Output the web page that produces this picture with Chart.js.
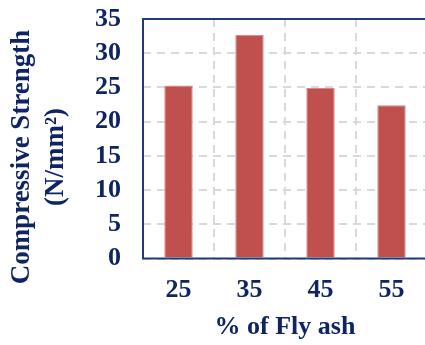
<!DOCTYPE html>
<html>
<head>
<meta charset="utf-8">
<script src="https://cdn.jsdelivr.net/npm/chart.js@4"></script>
<style>
  html, body { margin: 0; padding: 0; background: #fff; overflow: hidden; }
  #wrap { position: relative; width: 427px; height: 345px; }
</style>
</head>
<body>
<div id="wrap"><canvas id="chart"></canvas></div>
<script>
const flyAsh = ["25", "35", "45", "55"];
const strength = [25.3, 32.7, 24.9, 22.4];
const yMin = 0;
const yMax = 35;
const yStep = 5;
const yTitleLines = ["Compressive Strength", "(N/mm\u00B2)"];
const xTitle = "% of Fly ash";

const navy = "#0f2462";
const frameColor = "#1f3a78";
const gridColor = "#d9d9d9";
const barColor = "#c0504d";
const fontFamily = "'Liberation Serif', 'Times New Roman', serif";

// frame round the plot area and the two-line vertical axis title
const framePlugin = {
  id: "frame",
  afterDraw(chart) {
    const { ctx, chartArea } = chart;
    ctx.save();
    ctx.setLineDash([]);
    ctx.lineWidth = 2;
    ctx.strokeStyle = frameColor;
    ctx.strokeRect(chartArea.left, chartArea.top, chartArea.right - chartArea.left, chartArea.bottom - chartArea.top);

    ctx.fillStyle = navy;
    ctx.font = "bold 27px " + fontFamily;
    ctx.textAlign = "center";
    ctx.textBaseline = "alphabetic";
    const baselines = [28.5, 63];
    yTitleLines.forEach((line, i) => {
      ctx.save();
      ctx.translate(baselines[i], 157);
      ctx.rotate(-Math.PI / 2);
      ctx.fillText(line, 0, 0);
      ctx.restore();
    });
    ctx.restore();
  },
};

const ctx = document.getElementById("chart").getContext("2d");

new Chart(ctx, {
  type: "bar",
  data: {
    labels: flyAsh,
    datasets: [
      {
        data: strength,
        backgroundColor: barColor,
        borderColor: "#d98583",
        borderWidth: { top: 1, left: 1, right: 1, bottom: 0 },
        barPercentage: 0.4,
        categoryPercentage: 1,
      },
    ],
  },
  options: {
    responsive: true,
    maintainAspectRatio: false,
    animation: false,
    layout: {
      padding: { top: 19, right: 0, bottom: 0, left: 0 },
    },
    plugins: {
      legend: { display: false },
      tooltip: { enabled: false },
    },
    scales: {
      x: {
        grid: {
          color: gridColor,
          lineWidth: 2,
          drawTicks: false,
          offset: true,
        },
        border: { display: false, dash: [8, 6] },
        ticks: {
          color: navy,
          font: { family: fontFamily, size: 26, weight: "bold" },
          padding: 16,
          autoSkip: false,
          maxRotation: 0,
        },
        title: {
          display: true,
          text: xTitle,
          color: navy,
          font: { family: fontFamily, size: 26, weight: "bold" },
          padding: { top: 0, bottom: 2 },
        },
        afterFit(scale) {
          scale.height = 86.5;
        },
      },
      y: {
        min: yMin,
        max: yMax,
        grid: {
          color: gridColor,
          lineWidth: 2,
          drawTicks: false,
        },
        border: { display: false, dash: [8, 6] },
        ticks: {
          stepSize: yStep,
          autoSkip: false,
          color: navy,
          font: { family: fontFamily, size: 26, weight: "bold" },
          padding: 22,
        },
        afterFit(scale) {
          scale.width = 143;
          scale.paddingTop = 0;
          scale.paddingBottom = 0;
        },
      },
    },
  },
  plugins: [framePlugin],
});
</script>
</body>
</html>
